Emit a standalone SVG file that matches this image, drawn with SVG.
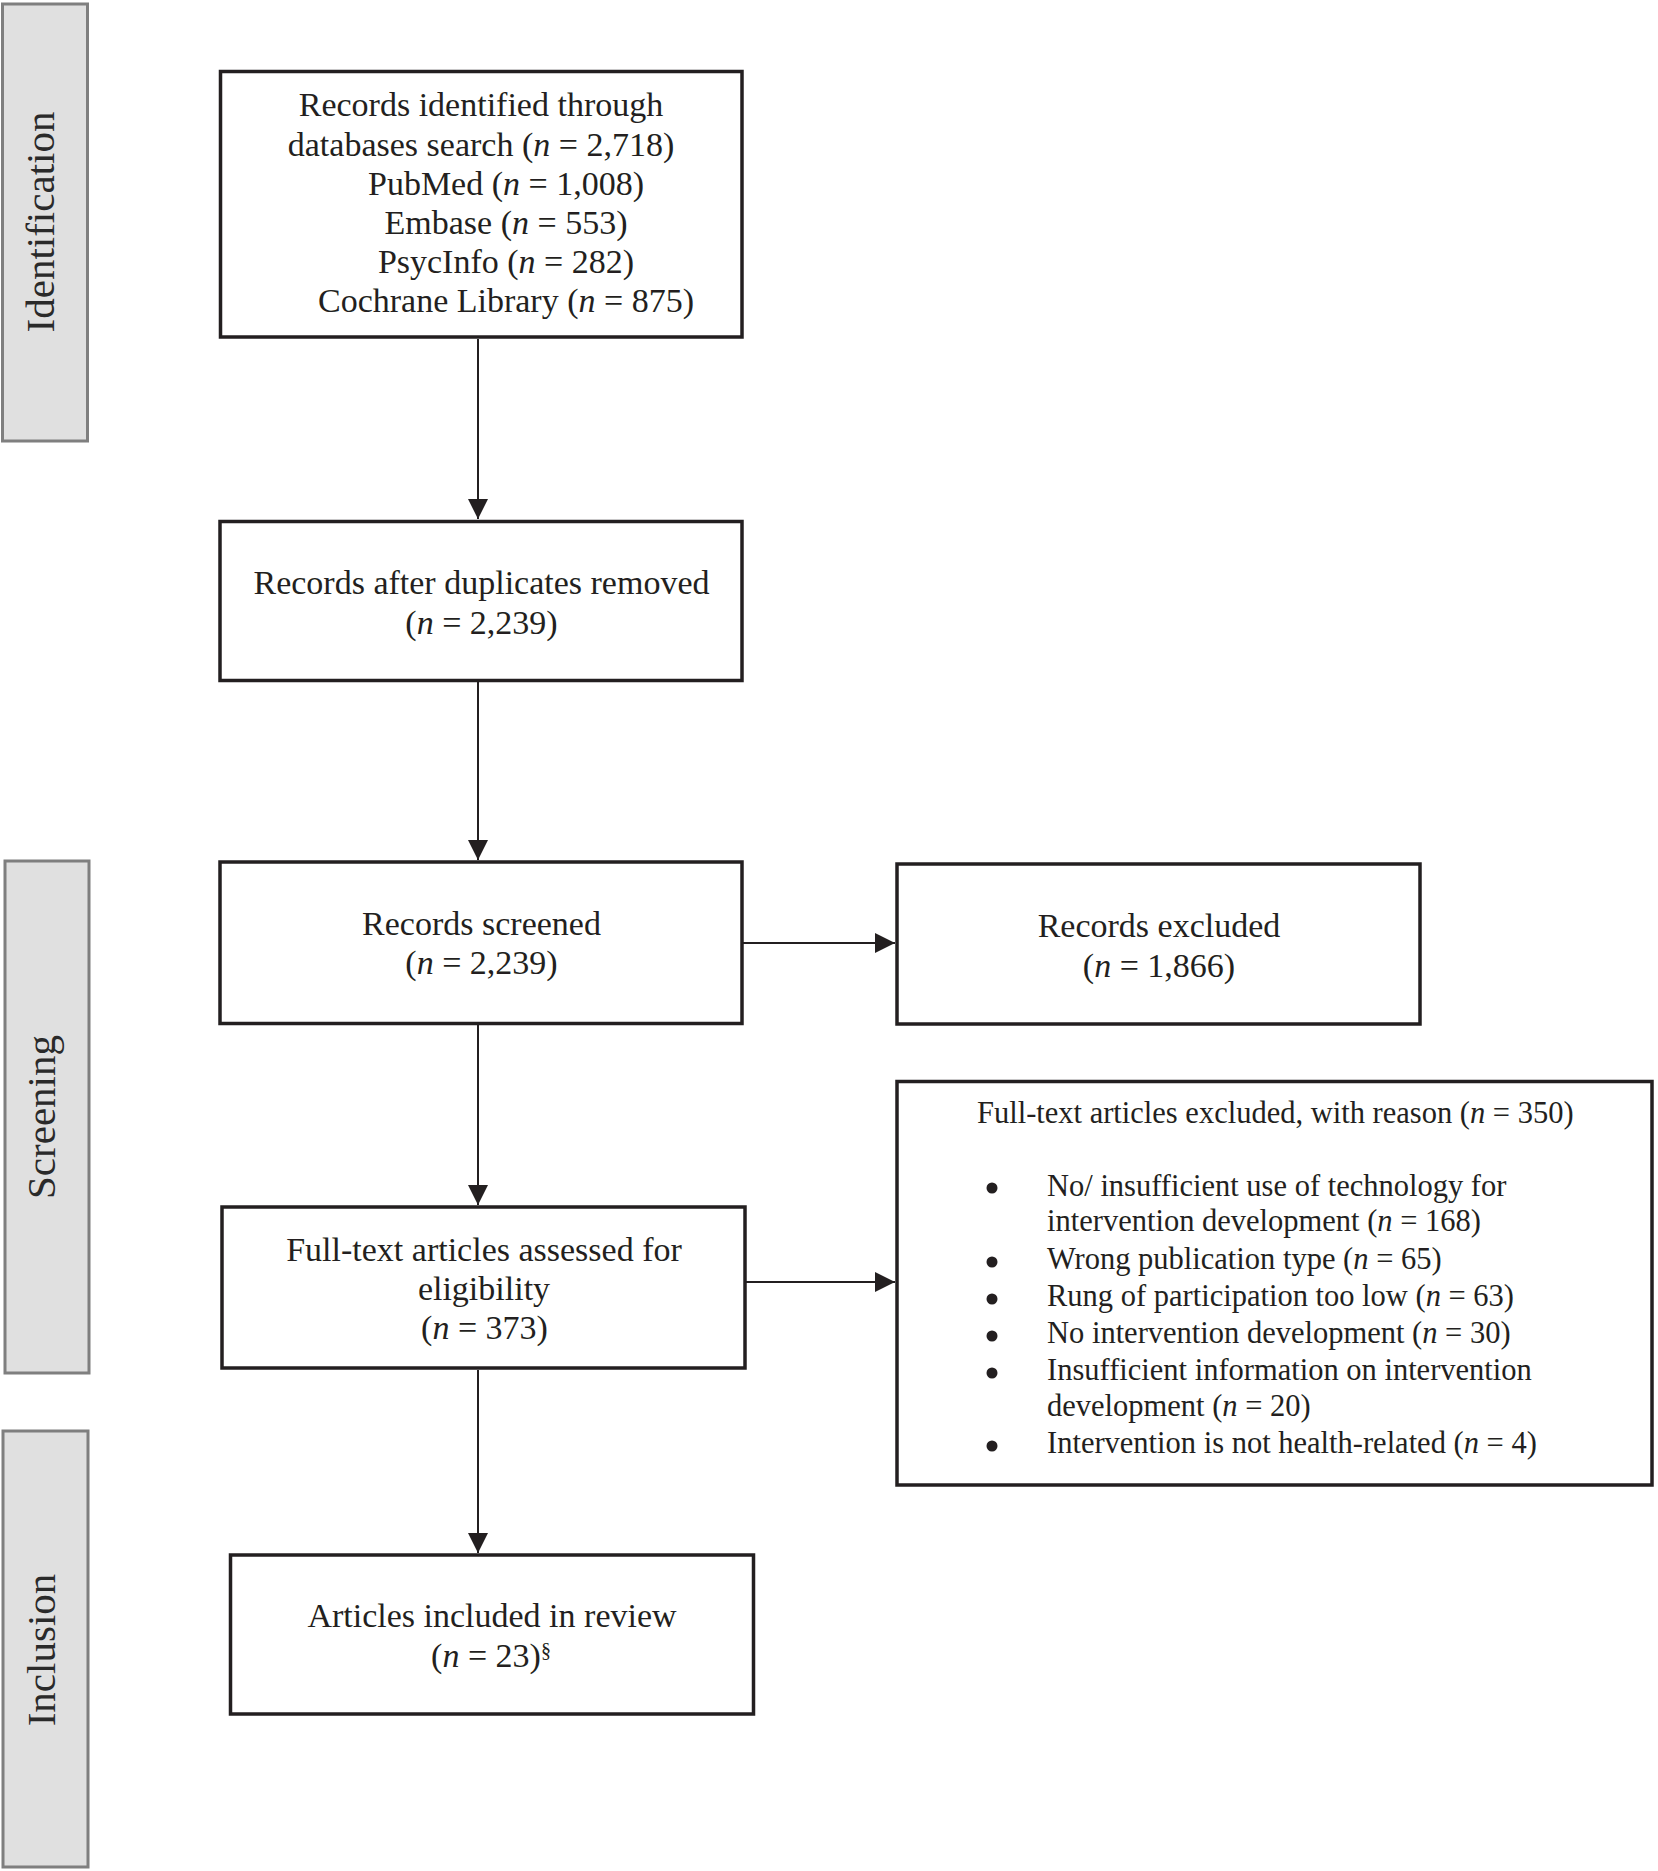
<svg xmlns="http://www.w3.org/2000/svg" width="1658" height="1871" viewBox="0 0 1658 1871">
<defs>
<style>
.box{fill:#fff;stroke:#231f20;stroke-width:3.5}
.side{fill:#e0e0e0;stroke:#7f7f7f;stroke-width:3}
.t{font-family:"Liberation Serif","Times New Roman",serif;font-size:34px;fill:#231f20;text-anchor:middle}
.s{font-family:"Liberation Serif","Times New Roman",serif;font-size:30.5px;fill:#231f20}
.lab{font-family:"Liberation Serif","Times New Roman",serif;font-size:41px;fill:#2a2a2a;text-anchor:middle}
.i{font-style:italic}
.c{stroke:#231f20;stroke-width:2;fill:none}
</style>
<marker id="ah" markerUnits="userSpaceOnUse" markerWidth="20" markerHeight="20" viewBox="0 0 20 20" refX="20" refY="10" orient="auto">
<path d="M0,0 L20,10 L0,20 z" fill="#231f20"/>
</marker>
</defs>
<rect width="1658" height="1871" fill="#fff"/>

<g id="phase-identification">
<rect class="side" x="2.5" y="4" width="85" height="437"/>
<text class="lab" transform="translate(54,222) rotate(-90)">Identification</text>
</g>
<g id="phase-screening">
<rect class="side" x="5" y="861" width="84" height="512"/>
<text class="lab" transform="translate(55,1117) rotate(-90)">Screening</text>
</g>
<g id="phase-inclusion">
<rect class="side" x="3" y="1431" width="85" height="436"/>
<text class="lab" transform="translate(55,1650) rotate(-90)">Inclusion</text>
</g>

<g id="connectors">
<line class="c" x1="478" y1="339" x2="478" y2="519" marker-end="url(#ah)"/>
<line class="c" x1="478" y1="682" x2="478" y2="860" marker-end="url(#ah)"/>
<line class="c" x1="478" y1="1025" x2="478" y2="1205" marker-end="url(#ah)"/>
<line class="c" x1="478" y1="1370" x2="478" y2="1553" marker-end="url(#ah)"/>
<line class="c" x1="743" y1="943" x2="895" y2="943" marker-end="url(#ah)"/>
<line class="c" x1="746" y1="1282" x2="895" y2="1282" marker-end="url(#ah)"/>
</g>

<g id="identified">
<rect class="box" x="220.5" y="71.5" width="521.5" height="265.5"/>
<text class="t" x="481" y="116">Records identified through</text>
<text class="t" x="481" y="155.5">databases search (<tspan class="i">n</tspan> = 2,718)</text>
<text class="t" x="506" y="194.5">PubMed (<tspan class="i">n</tspan> = 1,008)</text>
<text class="t" x="506" y="233.5">Embase (<tspan class="i">n</tspan> = 553)</text>
<text class="t" x="506" y="273">PsycInfo (<tspan class="i">n</tspan> = 282)</text>
<text class="t" x="506" y="312">Cochrane Library (<tspan class="i">n</tspan> = 875)</text>
</g>

<g id="deduplicated">
<rect class="box" x="220" y="521.5" width="522" height="159"/>
<text class="t" x="481.5" y="594">Records after duplicates removed</text>
<text class="t" x="481.5" y="634">(<tspan class="i">n</tspan> = 2,239)</text>
</g>

<g id="screened">
<rect class="box" x="220" y="862" width="522" height="161.5"/>
<text class="t" x="481.5" y="935">Records screened</text>
<text class="t" x="481.5" y="974">(<tspan class="i">n</tspan> = 2,239)</text>
</g>

<g id="excluded">
<rect class="box" x="897" y="864" width="523" height="160"/>
<text class="t" x="1159" y="937">Records excluded</text>
<text class="t" x="1159" y="977">(<tspan class="i">n</tspan> = 1,866)</text>
</g>

<g id="fulltext">
<rect class="box" x="222" y="1207" width="523" height="161"/>
<text class="t" x="484" y="1261">Full-text articles assessed for</text>
<text class="t" x="484" y="1300">eligibility</text>
<text class="t" x="484.5" y="1339">(<tspan class="i">n</tspan> = 373)</text>
</g>

<g id="fulltext-excluded">
<rect class="box" x="897" y="1081.5" width="755" height="403.5"/>
<text class="s" x="977" y="1123">Full-text articles excluded, with reason (<tspan class="i">n</tspan> = 350)</text>
<g fill="#231f20">
<circle cx="992" cy="1188" r="5.5"/>
<circle cx="992" cy="1262" r="5.5"/>
<circle cx="992" cy="1299" r="5.5"/>
<circle cx="992" cy="1336" r="5.5"/>
<circle cx="992" cy="1373" r="5.5"/>
<circle cx="992" cy="1446" r="5.5"/>
</g>
<text class="s" x="1047" y="1196">No/ insufficient use of technology for</text>
<text class="s" x="1047" y="1231">intervention development (<tspan class="i">n</tspan> = 168)</text>
<text class="s" x="1047" y="1269">Wrong publication type (<tspan class="i">n</tspan> = 65)</text>
<text class="s" x="1047" y="1306">Rung of participation too low (<tspan class="i">n</tspan> = 63)</text>
<text class="s" x="1047" y="1343">No intervention development (<tspan class="i">n</tspan> = 30)</text>
<text class="s" x="1047" y="1380">Insufficient information on intervention</text>
<text class="s" x="1047" y="1416">development (<tspan class="i">n</tspan> = 20)</text>
<text class="s" x="1047" y="1453">Intervention is not health-related (<tspan class="i">n</tspan> = 4)</text>
</g>

<g id="included">
<rect class="box" x="230.5" y="1555" width="523" height="159"/>
<text class="t" x="492" y="1627">Articles included in review</text>
<text class="t" x="486" y="1667">(<tspan class="i">n</tspan> = 23)</text>
<text class="s" x="541" y="1657" style="font-size:20px">§</text>
</g>
</svg>
